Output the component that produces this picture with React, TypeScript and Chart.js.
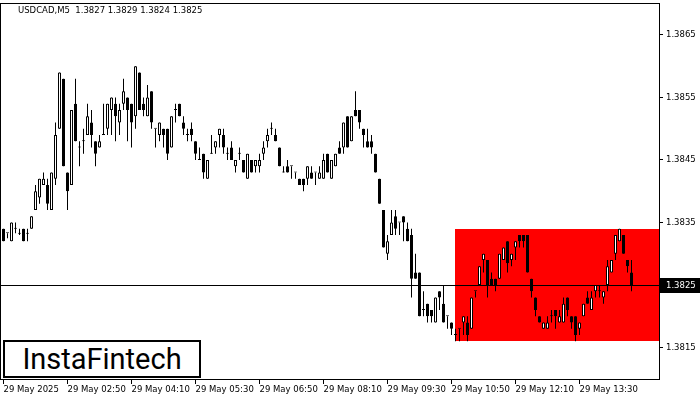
import React, { useEffect, useRef } from 'react';
import { Chart, registerables } from 'chart.js';

Chart.register(...registerables);

const chartTitle = 'USDCAD,M5  1.3827 1.3829 1.3824 1.3825';
const logoText = 'InstaFintech';

const opens = [
  1.3834, 1.38333, 1.3832, 1.3834, 1.38332, 1.3834, 1.38332, 1.3834, 1.3837, 1.3839,
  1.3841, 1.3841, 1.3837, 1.3842, 1.3850, 1.3858, 1.3843, 1.3841, 1.3854, 1.3847,
  1.3848, 1.3849, 1.3851, 1.3848, 1.3847, 1.3849, 1.3850, 1.3853, 1.3854, 1.3851,
  1.3854, 1.3855, 1.3854, 1.3852, 1.3859, 1.3854, 1.3852, 1.3856, 1.3850, 1.3849,
  1.3850, 1.3850, 1.3847, 1.3853, 1.3854, 1.3851, 1.3849, 1.3850, 1.3848, 1.3845,
  1.3846, 1.3842, 1.3846, 1.3847, 1.3849, 1.3849, 1.3846, 1.3847, 1.3844, 1.3846,
  1.3845, 1.3842, 1.3845, 1.3844, 1.3844, 1.3846, 1.3848, 1.3850, 1.3849, 1.3847,
  1.3843, 1.3844, 1.3844, 1.3843, 1.3842, 1.3842, 1.3842, 1.3843, 1.3843, 1.3842,
  1.3842, 1.3846, 1.3842, 1.3844, 1.3847, 1.3847, 1.3852, 1.3848, 1.3853, 1.3853,
  1.3850, 1.3848, 1.3848, 1.3846, 1.3842, 1.3837, 1.3830, 1.3833, 1.3836, 1.3835,
  1.3836, 1.3834, 1.3833, 1.3827, 1.3827, 1.3821, 1.3822, 1.3821, 1.3819, 1.3824,
  1.3822, 1.3820, 1.3819, 1.3817, 1.3818, 1.3819, 1.3819, 1.3818, 1.3824, 1.3825,
  1.3829, 1.3829, 1.3826, 1.3826, 1.3826, 1.3829, 1.3832, 1.3829, 1.3831, 1.3833,
  1.3833, 1.3833, 1.3826, 1.3823, 1.3820, 1.3818, 1.3818, 1.3820, 1.3821, 1.3819,
  1.3819, 1.3823, 1.3820, 1.3820, 1.3818, 1.3820, 1.3823, 1.3821, 1.3824, 1.3824,
  1.3823, 1.3825, 1.3827, 1.3830, 1.3832, 1.3833, 1.3829, 1.3827,
];

const highs = [
  1.3834, 1.38333, 1.3835, 1.3835, 1.3834, 1.3834, 1.3834, 1.3836, 1.3841, 1.3842,
  1.3843, 1.3842, 1.3843, 1.3851, 1.3859, 1.3858, 1.3843, 1.3853, 1.3858, 1.3848,
  1.3850, 1.3854, 1.3853, 1.3848, 1.3849, 1.3854, 1.3854, 1.3855, 1.3855, 1.3854,
  1.3858, 1.3855, 1.3854, 1.3860, 1.3859, 1.3855, 1.3857, 1.3856, 1.3850, 1.3851,
  1.3850, 1.3850, 1.3852, 1.3854, 1.3854, 1.3852, 1.3850, 1.3851, 1.3848, 1.3847,
  1.3846, 1.3845, 1.3849, 1.3848, 1.3850, 1.3850, 1.3847, 1.3848, 1.3845, 1.3847,
  1.3845, 1.3846, 1.3845, 1.3845, 1.3846, 1.3848, 1.3850, 1.3851, 1.3850, 1.3847,
  1.3844, 1.3845, 1.3844, 1.3843, 1.3842, 1.3842, 1.3844, 1.3844, 1.3843, 1.3844,
  1.3846, 1.3846, 1.3845, 1.3846, 1.3848, 1.3851, 1.3852, 1.3852, 1.3856, 1.3853,
  1.3850, 1.3850, 1.3849, 1.3846, 1.3842, 1.3837, 1.3833, 1.3837, 1.3837, 1.3835,
  1.3836, 1.3835, 1.3834, 1.3830, 1.3827, 1.3824, 1.3822, 1.3821, 1.3823, 1.3824,
  1.3825, 1.3820, 1.3819, 1.3818, 1.3818, 1.3820, 1.3820, 1.3823, 1.3824, 1.3828,
  1.3830, 1.3829, 1.3827, 1.3826, 1.3830, 1.3831, 1.3832, 1.3830, 1.3832, 1.3833,
  1.3833, 1.3833, 1.3826, 1.3823, 1.3820, 1.3819, 1.3820, 1.3821, 1.3821, 1.3821,
  1.3823, 1.3823, 1.3820, 1.3820, 1.3819, 1.3822, 1.3824, 1.3824, 1.3825, 1.3825,
  1.3824, 1.3829, 1.3829, 1.3833, 1.3834, 1.3833, 1.3829, 1.3829,
];

const lows = [
  1.3832, 1.38325, 1.3832, 1.38333, 1.3833, 1.3832, 1.3832, 1.3834, 1.3837, 1.3838,
  1.3841, 1.3837, 1.3837, 1.3841, 1.3850, 1.3844, 1.3837, 1.3841, 1.3848, 1.3844,
  1.3846, 1.3849, 1.3847, 1.3844, 1.3847, 1.3849, 1.3849, 1.3849, 1.3848, 1.3849,
  1.3853, 1.3848, 1.3847, 1.3850, 1.3853, 1.3852, 1.3852, 1.3850, 1.3847, 1.3848,
  1.3847, 1.3845, 1.3847, 1.3851, 1.3852, 1.3849, 1.3848, 1.3848, 1.3845, 1.3845,
  1.3842, 1.3842, 1.3846, 1.3846, 1.3847, 1.3846, 1.3845, 1.3845, 1.3843, 1.3845,
  1.3843, 1.3842, 1.3843, 1.3843, 1.3843, 1.3845, 1.3847, 1.3849, 1.3848, 1.3844,
  1.3843, 1.3843, 1.3842, 1.3842, 1.3841, 1.3840, 1.3841, 1.3842, 1.3841, 1.3842,
  1.3842, 1.3843, 1.3842, 1.3844, 1.3846, 1.3846, 1.3847, 1.3848, 1.3852, 1.3850,
  1.3847, 1.3847, 1.3846, 1.3843, 1.3838, 1.3831, 1.3829, 1.3833, 1.3833, 1.3833,
  1.3832, 1.3832, 1.3823, 1.3826, 1.3820, 1.3820, 1.3819, 1.3819, 1.3819, 1.3821,
  1.3819, 1.3818, 1.3817, 1.3816, 1.3816, 1.3817, 1.3816, 1.3818, 1.3823, 1.3825,
  1.3827, 1.3823, 1.3825, 1.3824, 1.3826, 1.3829, 1.3827, 1.3828, 1.3829, 1.3831,
  1.3831, 1.3827, 1.3823, 1.3820, 1.3819, 1.3818, 1.3818, 1.3819, 1.3818, 1.3819,
  1.3819, 1.3820, 1.3818, 1.3816, 1.3817, 1.3820, 1.3822, 1.3821, 1.3823, 1.3823,
  1.3822, 1.3824, 1.3827, 1.3829, 1.3832, 1.3830, 1.3827, 1.3824,
];

const closes = [
  1.3832, 1.38333, 1.3835, 1.3834, 1.38332, 1.3832, 1.38332, 1.3836, 1.3840, 1.3842,
  1.3842, 1.3838, 1.3843, 1.3849, 1.3859, 1.3844, 1.3840, 1.3853, 1.3848, 1.3847,
  1.3848, 1.3852, 1.3849, 1.3846, 1.3848, 1.3849, 1.3854, 1.3855, 1.3852, 1.3853,
  1.3856, 1.3853, 1.3851, 1.3860, 1.3853, 1.3853, 1.3855, 1.3851, 1.3850, 1.3851,
  1.3849, 1.3846, 1.3852, 1.3853, 1.3852, 1.3850, 1.3849, 1.3849, 1.3846, 1.3845,
  1.3843, 1.3845, 1.3846, 1.3848, 1.3850, 1.3847, 1.3846, 1.3845, 1.3845, 1.3846,
  1.3843, 1.3846, 1.3843, 1.3845, 1.3845, 1.3847, 1.3849, 1.3850, 1.3848, 1.3844,
  1.3843, 1.3843, 1.3844, 1.3843, 1.3841, 1.3841, 1.3844, 1.3842, 1.3843, 1.3843,
  1.3845, 1.3843, 1.3845, 1.3846, 1.3846, 1.3851, 1.3847, 1.3852, 1.3852, 1.3851,
  1.3849, 1.3847, 1.3847, 1.3843, 1.3838, 1.3831, 1.3832, 1.3835, 1.3834, 1.3835,
  1.3835, 1.3832, 1.3826, 1.3826, 1.3820, 1.3821, 1.3820, 1.3820, 1.3823, 1.3823,
  1.3819, 1.3820, 1.3818, 1.3817, 1.3818, 1.3820, 1.3817, 1.3823, 1.3824, 1.3828,
  1.3830, 1.3825, 1.3825, 1.3825, 1.3830, 1.3831, 1.38285, 1.3830, 1.3832, 1.3832,
  1.3832, 1.3827, 1.3824, 1.3821, 1.3819, 1.3819, 1.3819, 1.3820, 1.3820, 1.3820,
  1.3822, 1.3821, 1.3819, 1.3817, 1.3819, 1.3822, 1.3822, 1.3823, 1.3825, 1.3824,
  1.3824, 1.3828, 1.3829, 1.3833, 1.3834, 1.3830, 1.3828, 1.3825,
];

const timeTickIndices = [0, 16, 32, 48, 64, 80, 96, 112, 128, 144];
const timeTickLabels = [
  '29 May 2025', '29 May 02:50', '29 May 04:10', '29 May 05:30', '29 May 06:50',
  '29 May 08:10', '29 May 09:30', '29 May 10:50', '29 May 12:10', '29 May 13:30',
];
const priceTicks = [1.3815, 1.3825, 1.3835, 1.3845, 1.3855, 1.3865];
const currentPrice = 1.3825;
const zoneStartIndex = 113;
const zoneTop = 1.3834;
const zoneBottom = 1.3816;

const FONT_FAMILY = '"DejaVu Sans", Tahoma, sans-serif';
const FONT_SIZE = 8.5;

const mtPlugin = {
  id: 'mtOverlay',
  beforeDatasetsDraw(chart: any) {
    const { ctx, chartArea, scales } = chart;
    const x0 = Math.floor(scales.x.getPixelForValue(zoneStartIndex));
    const yT = Math.round(scales.y.getPixelForValue(zoneTop));
    const yB = Math.round(scales.y.getPixelForValue(zoneBottom));
    ctx.save();
    ctx.fillStyle = '#ff0000';
    ctx.fillRect(x0, yT, Math.floor(chartArea.right) - x0, yB - yT);
    ctx.restore();
  },
  afterDatasetsDraw(chart: any) {
    const { ctx, chartArea, scales } = chart;
    const y = Math.round(scales.y.getPixelForValue(currentPrice));
    ctx.save();
    ctx.fillStyle = '#000';
    ctx.fillRect(chartArea.left, y, chartArea.right - chartArea.left, 1);
    ctx.restore();
  },
  afterDraw(chart: any) {
    const { ctx, chartArea, scales, width } = chart;
    ctx.save();
    ctx.strokeStyle = '#000';
    ctx.lineWidth = 1;
    const L = Math.floor(chartArea.left) + 0.5;
    const T = Math.floor(chartArea.top) + 0.5;
    const R = Math.floor(chartArea.right) + 0.5;
    const B = Math.floor(chartArea.bottom) - 0.5;
    ctx.strokeRect(L, T, R - L, B - T);
    const y = Math.round(scales.y.getPixelForValue(currentPrice));
    ctx.fillStyle = '#000';
    ctx.fillRect(Math.floor(chartArea.right) + 1, y - 7, width - Math.floor(chartArea.right) - 1, 15);
    ctx.fillStyle = '#fff';
    ctx.font = `${FONT_SIZE}px ${FONT_FAMILY}`;
    ctx.textBaseline = 'middle';
    ctx.textAlign = 'left';
    ctx.fillText(currentPrice.toFixed(4), Math.floor(chartArea.right) + 7, y + 0.5);
    ctx.fillStyle = '#000';
    ctx.fillText(chartTitle, 18, 11);
    ctx.restore();
  },
};

export default function App() {
  const canvasRef = useRef<HTMLCanvasElement | null>(null);

  useEffect(() => {
    document.body.style.margin = '0';
    const canvas = canvasRef.current;
    if (!canvas) return;

    const wickData = opens.map((_, i) => ({ x: i, y: [lows[i], highs[i]] }));
    const bodyData = opens.map((o, i) => ({ x: i, y: [o, closes[i]] }));
    const bodyColors = opens.map((o, i) => (closes[i] > o ? '#ffffff' : '#000000'));

    const chart = new Chart(canvas, {
      type: 'bar',
      data: {
        datasets: [
          {
            label: 'body',
            data: bodyData as any,
            backgroundColor: bodyColors,
            borderColor: '#000000',
            borderWidth: 1,
            borderSkipped: false,
            barThickness: 3,
            minBarLength: 1,
            grouped: false,
            inflateAmount: 0,
            order: 0,
          } as any,
          {
            label: 'wick',
            data: wickData as any,
            backgroundColor: '#000000',
            borderWidth: 0,
            barThickness: 1,
            grouped: false,
            inflateAmount: 0,
            order: 1,
          } as any,
        ],
      },
      options: {
        responsive: false,
        animation: false,
        events: [],
        layout: { padding: { left: 0, right: 0, top: 3, bottom: 0 } },
        plugins: {
          legend: { display: false },
          tooltip: { enabled: false },
          title: { display: false },
        },
        scales: {
          x: {
            type: 'linear',
            min: -0.875,
            max: 163.875,
            offset: false,
            afterBuildTicks: (s: any) => {
              s.ticks = timeTickIndices.map((v) => ({ value: v }));
            },
            afterFit: (s: any) => {
              s.height = 20;
              s.paddingLeft = 0;
              s.paddingRight = 0;
            },
            grid: {
              drawOnChartArea: false,
              drawTicks: true,
              tickLength: 4,
              color: '#000',
              offset: false,
            },
            border: { display: false },
            ticks: {
              autoSkip: false,
              maxRotation: 0,
              minRotation: 0,
              align: 'start',
              padding: 1,
              color: '#000',
              font: { family: FONT_FAMILY, size: FONT_SIZE },
              callback: (v: any) => {
                const k = timeTickIndices.indexOf(Number(v));
                return k >= 0 ? timeTickLabels[k] : '';
              },
            },
          } as any,
          y: {
            type: 'linear',
            position: 'right',
            min: 1.38098,
            max: 1.387012,
            beginAtZero: false,
            afterBuildTicks: (s: any) => {
              s.ticks = priceTicks.map((v) => ({ value: v }));
            },
            afterFit: (s: any) => {
              s.width = 41;
              s.paddingTop = 0;
              s.paddingBottom = 0;
            },
            grid: {
              drawOnChartArea: false,
              drawTicks: true,
              tickLength: 4,
              color: '#000',
            },
            border: { display: false },
            ticks: {
              padding: 3,
              color: '#000',
              font: { family: FONT_FAMILY, size: FONT_SIZE },
              callback: (v: any) => Number(v).toFixed(4),
            },
          } as any,
        },
      },
      plugins: [mtPlugin],
    });

    return () => chart.destroy();
  }, []);

  return (
    <div style={{ position: 'relative', width: 700, height: 400, background: '#fff' }}>
      <canvas ref={canvasRef} width={700} height={400} style={{ display: 'block' }} />
      <div
        style={{
          position: 'absolute',
          left: 3,
          top: 340,
          width: 198,
          height: 38,
          boxSizing: 'border-box',
          border: '2px solid #000',
          background: '#fff',
          display: 'flex',
          alignItems: 'center',
          justifyContent: 'center',
          fontFamily: 'Roboto, "Open Sans", sans-serif',
          fontSize: 29,
          lineHeight: 1,
          color: '#000',
        }}
      >
        {logoText}
      </div>
    </div>
  );
}
